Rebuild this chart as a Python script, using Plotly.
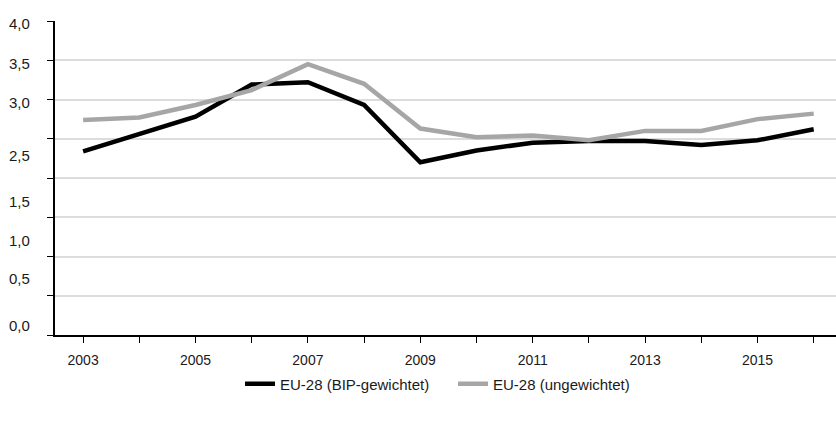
import plotly.graph_objects as go

# ---- data ----
years = list(range(2003, 2017))
bip_gewichtet = [2.34, 2.56, 2.78, 3.19, 3.22, 2.93, 2.20, 2.35, 2.45, 2.47, 2.47, 2.42, 2.48, 2.62]
ungewichtet = [2.74, 2.77, 2.93, 3.12, 3.45, 3.20, 2.63, 2.52, 2.54, 2.48, 2.60, 2.60, 2.75, 2.82]
x_tick_labels = [str(y) if y % 2 == 1 else "" for y in years]
y_tick_labels = ["4,0", "3,5", "3,0", "2,5", "1,5", "1,0", "0,5", "0,0"]
series_names = ["EU-28 (BIP-gewichtet)", "EU-28 (ungewichtet)"]

# positions of the (irregularly placed) y labels, in axis units
y_label_pos = [3.97, 3.46, 2.965, 2.29, 1.705, 1.21, 0.725, 0.127]

FONT = "Liberation Sans, Arial, sans-serif"
W, H = 836, 421
ML, MR, MT, MB = 55, 0, 21, 86
plot_w = W - ML - MR
px_per_year = 56.2

fig = go.Figure()
fig.add_trace(go.Scatter(x=years, y=bip_gewichtet, mode="lines", name=series_names[0],
                         line=dict(color="#000000", width=4.5), legend="legend"))
fig.add_trace(go.Scatter(x=years, y=ungewichtet, mode="lines", name=series_names[1],
                         line=dict(color="#a6a6a6", width=4.5), legend="legend2"))

annotations = []
for txt, pos in zip(y_tick_labels, y_label_pos):
    annotations.append(dict(text=txt, xref="paper", yref="y", x=(32 - ML) / plot_w, y=pos,
                            xanchor="right", yanchor="middle", showarrow=False,
                            font=dict(family=FONT, size=15, color="#1a1a1a")))

legend_common = dict(orientation="h", xanchor="left", yref="container",
                     y=1 - 384 / H, yanchor="middle",
                     font=dict(family=FONT, size=15, color="#1a1a1a"),
                     bgcolor="rgba(0,0,0,0)", borderwidth=0)

fig.update_layout(
    width=W, height=H,
    margin=dict(l=ML, r=MR, t=MT, b=MB, autoexpand=False),
    paper_bgcolor="white", plot_bgcolor="white",
    font=dict(family=FONT, size=14, color="#1a1a1a"),
    showlegend=True,
    legend=dict(x=(240 - ML) / plot_w, **legend_common),
    legend2=dict(x=(453 - ML) / plot_w, **legend_common),
    annotations=annotations,
    xaxis=dict(range=[2002.5, 2002.5 + plot_w / px_per_year], tickmode="array",
               tickvals=years, ticktext=x_tick_labels, ticks="outside", ticklen=6,
               tickcolor="black", tickwidth=1, showline=True, linecolor="black",
               linewidth=1.5, showgrid=False, zeroline=False, ticklabelstandoff=5,
               automargin=False,
               tickfont=dict(family=FONT, size=14, color="#1a1a1a")),
    yaxis=dict(range=[0, 4], dtick=0.5, tick0=0, ticks="outside", ticklen=6,
               tickcolor="black", tickwidth=1, showline=True, linecolor="black",
               linewidth=1.5, showgrid=True, gridcolor="#dcdcdc", gridwidth=1.5,
               zeroline=False, showticklabels=False, automargin=False),
)

fig.write_html("out.html",
               config={"displayModeBar": False},
               post_script="document.body.style.margin='0';document.body.style.padding='0';")
